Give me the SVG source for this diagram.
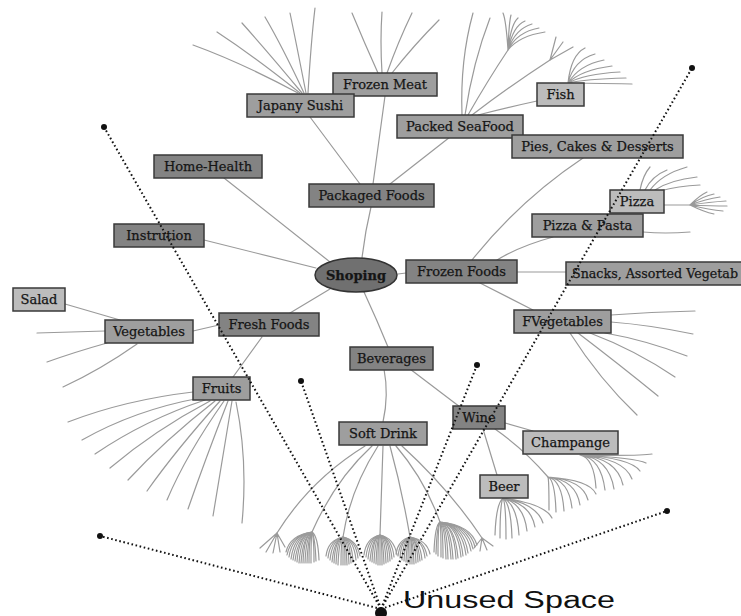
<svg xmlns="http://www.w3.org/2000/svg" width="741" height="616" viewBox="0 0 741 616">
  <style>
    .e { fill: none; stroke: #9a9a9a; stroke-width: 1.2; stroke-linecap: round; }
    .box { stroke: #3a3a3a; stroke-width: 1.5; }
    .l1 { fill: #838383; }
    .l2 { fill: #9e9e9e; }
    .l3 { fill: #bcbcbc; }
    .t { font-family: "DejaVu Serif", "Liberation Serif", serif; font-size: 13px; fill: #151515; stroke: #151515; stroke-width: 0.25; text-anchor: middle; }
    .d { fill: none; stroke: #111; stroke-width: 2; stroke-dasharray: 1.6 2.6; }
    .dot { fill: #111; }
  </style>
  <rect width="741" height="616" fill="#fff"/>

  <!-- tree branches -->
  <g id="connectors">
    <!-- root to first level -->
    <path class="e" d="M362,258 Q365,232 371,207"/>
    <path class="e" d="M330,262 L224,178"/>
    <path class="e" d="M316,268 L204,240"/>
    <path class="e" d="M330,289 L290,313"/>
    <path class="e" d="M398,274 L406,273"/>
    <path class="e" d="M364,292 Q377,320 388,347"/>

    <!-- Packaged Foods -->
    <path class="e" d="M360,184 L310,117"/>
    <path class="e" d="M373,184 L385,96"/>
    <path class="e" d="M390,184 L450,137"/>

    <!-- Japany Sushi leaves -->
    <path class="e" d="M298,93 Q240,62 193,45"/>
    <path class="e" d="M300,93 Q255,57 217,32"/>
    <path class="e" d="M302,93 Q268,52 242,23"/>
    <path class="e" d="M304,93 Q282,46 265,17"/>
    <path class="e" d="M306,93 Q296,42 290,13"/>
    <path class="e" d="M308,93 Q311,42 315,8"/>

    <!-- Frozen Meat leaves -->
    <path class="e" d="M378,73 Q364,42 352,13"/>
    <path class="e" d="M382,73 Q380,40 382,12"/>
    <path class="e" d="M387,73 Q398,42 412,13"/>
    <path class="e" d="M392,73 Q414,45 439,20"/>

    <!-- Packed SeaFood -->
    <path class="e" d="M462,115 Q460,60 473,13"/>
    <path class="e" d="M465,115 Q473,62 490,18"/>
    <path class="e" d="M468,115 Q488,80 508,50"/>
    <path class="e" d="M472,115 Q510,86 550,60"/>
    <path class="e" d="M478,115 Q505,108 537,101"/>
    <path class="e" d="M508,50 Q506,20 503,13 M508,50 Q509,22 511,15 M508,50 Q511,24 518,18 M508,50 Q513,26 525,21 M508,50 Q515,29 532,24 M508,50 Q517,32 539,28 M508,50 Q519,36 545,32"/>
    <path class="e" d="M550,60 L556,37 M550,60 L563,42 M550,60 L573,47"/>

    <!-- Fish leaves -->
    <path class="e" d="M568,83 Q571,55 585,48 M568,83 Q574,60 595,54 M568,83 Q579,65 604,60 M568,83 Q581,70 612,66 M568,83 Q584,74 620,72 M568,83 Q585,79 626,78 M568,83 Q588,83 632,84"/>

    <!-- Frozen Foods -->
    <path class="e" d="M583,158 Q520,200 472,260"/>
    <path class="e" d="M553,237 Q520,246 497,260"/>
    <path class="e" d="M517,272 L566,272"/>
    <path class="e" d="M480,283 L533,310"/>

    <!-- Pizza & Pasta / Pizza -->
    <path class="e" d="M643,232 Q665,234 690,232"/>
    <path class="e" d="M640,190 Q643,175 650,167 M645,190 Q652,176 667,170 M650,190 Q662,174 687,167 M655,190 Q670,180 697,177 M660,191 Q678,186 700,185"/>
    <path class="e" d="M664,205 L690,205"/>
    <path class="e" d="M690,205 Q700,195 707,192 M690,205 Q703,196 714,194 M690,205 Q706,199 720,197 M690,205 Q710,202 726,201 M690,205 Q712,206 727,206 M690,205 Q710,210 723,211 M690,205 Q704,212 714,214"/>

    <!-- FVegetables leaves -->
    <path class="e" d="M611,315 Q650,312 695,311"/>
    <path class="e" d="M611,322 Q650,325 693,334"/>
    <path class="e" d="M605,333 Q645,340 687,356"/>
    <path class="e" d="M590,333 Q635,350 675,377"/>
    <path class="e" d="M578,333 Q620,365 658,396"/>
    <path class="e" d="M570,333 Q600,380 637,415"/>

    <!-- Fresh Foods -->
    <path class="e" d="M219,325 L193,331"/>
    <path class="e" d="M262,337 L233,377"/>
    <path class="e" d="M120,320 L65,304"/>
    <path class="e" d="M105,331 L37,333"/>
    <path class="e" d="M107,343 Q75,352 47,362"/>
    <path class="e" d="M137,344 Q100,370 63,387"/>

    <!-- Fruits leaves -->
    <path class="e" d="M193,392 Q125,400 68,422"/>
    <path class="e" d="M200,398 Q135,410 82,440"/>
    <path class="e" d="M205,400 Q145,420 95,454"/>
    <path class="e" d="M210,401 Q155,430 110,468"/>
    <path class="e" d="M215,401 Q165,440 128,480"/>
    <path class="e" d="M220,401 Q176,450 147,491"/>
    <path class="e" d="M224,401 Q186,455 167,500"/>
    <path class="e" d="M228,401 Q205,460 188,509"/>
    <path class="e" d="M232,401 Q222,460 213,516"/>
    <path class="e" d="M236,402 Q248,460 242,523"/>

    <!-- Beverages -->
    <path class="e" d="M384,369 Q389,395 383,422"/>
    <path class="e" d="M410,369 L460,407"/>
    <path class="e" d="M505,423 L533,431"/>
    <path class="e" d="M483,429 L497,475"/>
    <path class="e" d="M495,429 Q525,450 548,477"/>

    <!-- Soft Drink children -->
    <path class="e" d="M365,446 Q310,480 277,533"/>
    <path class="e" d="M372,446 Q335,480 312,532"/>
    <path class="e" d="M378,446 Q350,490 343,537"/>
    <path class="e" d="M383,446 L380,535"/>
    <path class="e" d="M390,446 Q402,490 410,537"/>
    <path class="e" d="M396,446 Q425,480 440,522"/>
    <path class="e" d="M402,446 Q450,490 482,538"/>
    <path class="e" d="M277,533 L260,548 M277,533 L266,552 M277,533 L273,553 M277,533 L280,552 M277,533 L285,547"/>
    <path class="e" d="M482,538 L474,548 M482,538 L480,551 M482,538 L487,550 M482,538 L493,546"/>
    <path class="e" d="M312,532 Q290,535 286,552 M312,532 Q292,535 289,557 M312,532 Q296,535 293,560 M312,532 Q299,535 297,562 M312,532 Q303,536 301,563 M312,532 Q306,537 305,563 M312,532 Q309,538 309,563 M312,532 Q314,538 314,562 M312,532 Q318,536 319,560"/>
    <path class="e" d="M312,532 Q291,535 287,555 M312,532 Q294,535 291,559 M312,532 Q298,535 295,561 M312,532 Q301,535 299,563 M312,532 Q304,536 303,563 M312,532 Q308,537 307,563 M312,532 Q311,538 311,563 M312,532 Q315,537 316,561"/>
    <path class="e" d="M343,537 Q328,540 326,556 M343,537 Q332,540 330,560 M343,537 Q335,540 334,563 M343,537 Q339,540 338,565 M343,537 Q343,540 343,565 M343,537 Q346,540 347,565 M343,537 Q350,540 351,563 M343,537 Q354,540 356,560 M343,537 Q357,540 360,556"/>
    <path class="e" d="M343,537 Q330,540 328,558 M343,537 Q334,540 332,562 M343,537 Q337,540 336,564 M343,537 Q341,540 341,565 M343,537 Q345,540 345,565 M343,537 Q348,540 349,564 M343,537 Q352,540 353,562 M343,537 Q356,540 358,558"/>
    <path class="e" d="M380,535 Q366,538 364,555 M380,535 Q370,538 368,559 M380,535 Q373,538 372,562 M380,535 Q377,538 376,564 M380,535 Q380,538 380,565 M380,535 Q383,538 384,564 M380,535 Q387,538 388,562 M380,535 Q390,538 392,559 M380,535 Q394,538 397,555"/>
    <path class="e" d="M380,535 Q368,538 366,557 M380,535 Q372,538 370,561 M380,535 Q375,538 374,563 M380,535 Q378,538 378,565 M380,535 Q382,538 382,565 M380,535 Q385,538 386,563 M380,535 Q389,538 390,561 M380,535 Q392,538 394,557"/>
    <path class="e" d="M410,537 Q398,540 396,554 M410,537 Q401,540 400,558 M410,537 Q405,540 404,561 M410,537 Q408,540 408,563 M410,537 Q412,540 412,564 M410,537 Q415,540 416,563 M410,537 Q418,540 420,561 M410,537 Q423,540 425,558 M410,537 Q427,540 430,554"/>
    <path class="e" d="M410,537 Q400,540 398,556 M410,537 Q403,540 402,560 M410,537 Q407,540 406,562 M410,537 Q410,540 410,564 M410,537 Q413,540 414,564 M410,537 Q417,540 418,562 M410,537 Q420,540 422,560 M410,537 Q424,540 427,556"/>
    <path class="e" d="M440,522 Q435,525 434,552 M440,522 Q438,525 438,556 M440,522 Q443,525 443,558 M440,522 Q447,525 448,559 M440,522 Q451,525 453,559 M440,522 Q455,525 458,558 M440,522 Q460,525 463,556 M440,522 Q464,525 468,553 M440,522 Q468,525 473,549 M440,522 Q471,525 477,545"/>
    <path class="e" d="M440,522 Q437,525 436,554 M440,522 Q441,525 441,557 M440,522 Q445,525 446,559 M440,522 Q449,525 451,559 M440,522 Q454,525 456,559 M440,522 Q458,525 461,557 M440,522 Q462,525 466,555 M440,522 Q466,525 471,551 M440,522 Q470,525 475,547"/>

    <!-- Beer leaves -->
    <path class="e" d="M503,498 Q496,504 495,535 M503,498 Q500,504 500,538 M503,498 Q506,504 506,539 M503,498 Q511,504 512,538 M503,498 Q517,504 519,535 M503,498 Q524,504 527,531 M503,498 Q531,504 535,527 M503,498 Q537,504 543,523 M503,498 Q545,504 552,518"/>
    <!-- Wine sub-fan -->
    <path class="e" d="M548,477 Q549,480 549,510 M548,477 Q555,480 556,512 M548,477 Q562,480 564,511 M548,477 Q569,480 572,508 M548,477 Q576,480 580,505 M548,477 Q583,480 588,500 M548,477 Q590,480 596,494"/>
    <!-- Champange leaves -->
    <path class="e" d="M580,455 Q594,458 596,488 M580,455 Q601,458 605,490 M580,455 Q609,458 614,489 M580,455 Q617,458 623,485 M580,455 Q624,458 632,479 M580,455 Q631,458 640,471 M580,455 Q636,458 646,463 M580,455 Q641,456 652,454"/>
  </g>

  <!-- nodes -->
  <g id="n-frozen-meat"><rect class="box l2" x="333" y="73" width="104" height="23"/><text class="t" x="385" y="89">Frozen Meat</text></g>
  <g id="n-japany-sushi"><rect class="box l2" x="247" y="94" width="107" height="23"/><text class="t" x="300.5" y="110">Japany Sushi</text></g>
  <g id="n-packed-seafood"><rect class="box l2" x="397" y="115" width="126" height="23"/><text class="t" x="460" y="131">Packed SeaFood</text></g>
  <g id="n-fish"><rect class="box l3" x="537" y="83" width="47" height="23"/><text class="t" x="560.5" y="99">Fish</text></g>
  <g id="n-pies"><rect class="box l2" x="512" y="135" width="171" height="23"/><text class="t" x="597.5" y="151">Pies, Cakes &amp; Desserts</text></g>
  <g id="n-home-health"><rect class="box l1" x="154" y="155" width="108" height="23"/><text class="t" x="208" y="171">Home-Health</text></g>
  <g id="n-packaged-foods"><rect class="box l1" x="309" y="184" width="125" height="23"/><text class="t" x="371.5" y="200">Packaged Foods</text></g>
  <g id="n-pizza"><rect class="box l3" x="610" y="190" width="54" height="23"/><text class="t" x="637" y="206">Pizza</text></g>
  <g id="n-pizza-pasta"><rect class="box l2" x="532" y="214" width="111" height="23"/><text class="t" x="587.5" y="230">Pizza &amp; Pasta</text></g>
  <g id="n-instrution"><rect class="box l1" x="114" y="224" width="90" height="23"/><text class="t" x="159" y="240">Instrution</text></g>
  <g id="n-frozen-foods"><rect class="box l1" x="406" y="260" width="111" height="23"/><text class="t" x="461.5" y="276">Frozen Foods</text></g>
  <g id="n-snacks"><rect class="box l2" x="566" y="262" width="185" height="23"/><text class="t" x="572" y="278" style="text-anchor:start" textLength="166" lengthAdjust="spacingAndGlyphs">Snacks, Assorted Vegetab</text></g>
  <g id="n-salad"><rect class="box l3" x="13" y="288" width="52" height="23"/><text class="t" x="39" y="304">Salad</text></g>
  <g id="n-fresh-foods"><rect class="box l1" x="219" y="313" width="100" height="23"/><text class="t" x="269" y="329">Fresh Foods</text></g>
  <g id="n-vegetables"><rect class="box l2" x="105" y="320" width="88" height="23"/><text class="t" x="149" y="336">Vegetables</text></g>
  <g id="n-fvegetables"><rect class="box l2" x="514" y="310" width="97" height="23"/><text class="t" x="562.5" y="326">FVegetables</text></g>
  <g id="n-beverages"><rect class="box l1" x="350" y="347" width="83" height="23"/><text class="t" x="391.5" y="363">Beverages</text></g>
  <g id="n-fruits"><rect class="box l2" x="193" y="377" width="57" height="23"/><text class="t" x="221.5" y="393">Fruits</text></g>
  <g id="n-wine"><rect class="box l1" x="453" y="406" width="52" height="23"/><text class="t" x="479" y="422">Wine</text></g>
  <g id="n-soft-drink"><rect class="box l2" x="339" y="422" width="88" height="23"/><text class="t" x="383" y="438">Soft Drink</text></g>
  <g id="n-champange"><rect class="box l3" x="523" y="431" width="95" height="23"/><text class="t" x="570.5" y="447">Champange</text></g>
  <g id="n-beer"><rect class="box l3" x="480" y="475" width="48" height="23"/><text class="t" x="504" y="491">Beer</text></g>
  <g id="n-shoping"><ellipse cx="356" cy="275" rx="41" ry="17" fill="#707070" stroke="#333" stroke-width="1.5"/><text class="t" x="356" y="280" font-weight="bold">Shoping</text></g>

  <!-- unused space rays -->
  <g id="unused-space">
    <path class="d" d="M381,609 L104,127"/>
    <path class="d" d="M381,609 L301,381"/>
    <path class="d" d="M381,609 L477,365"/>
    <path class="d" d="M381,609 L692,68"/>
    <path class="d" d="M381,609 L100,536"/>
    <path class="d" d="M381,609 L667,511"/>
    <circle class="dot" cx="104" cy="127" r="3"/>
    <circle class="dot" cx="301" cy="381" r="3"/>
    <circle class="dot" cx="477" cy="365" r="3"/>
    <circle class="dot" cx="692" cy="68" r="3"/>
    <circle class="dot" cx="100" cy="536" r="3"/>
    <circle class="dot" cx="667" cy="511" r="3"/>
    <circle class="dot" cx="381" cy="613" r="6"/>
    <text x="403" y="608" font-family="Liberation Sans, Arial, sans-serif" font-size="23" fill="#111" textLength="212" lengthAdjust="spacingAndGlyphs">Unused Space</text>
  </g>
</svg>
